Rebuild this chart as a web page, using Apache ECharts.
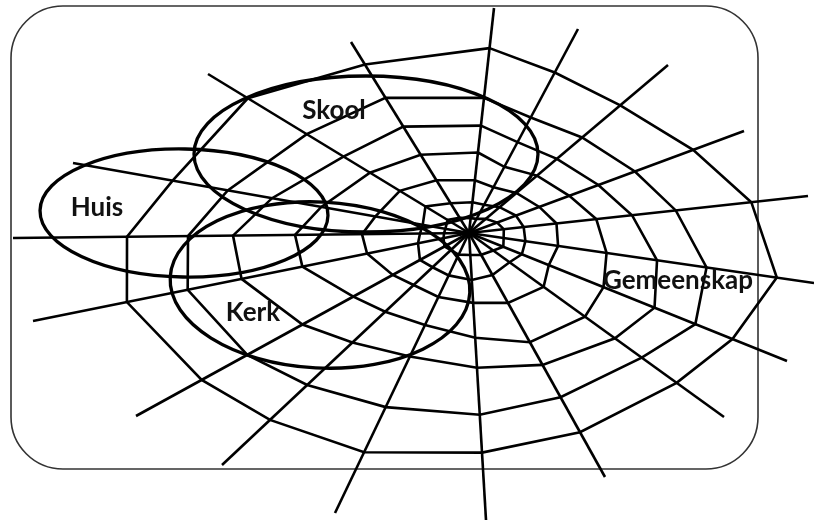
<!DOCTYPE html>
<html><head><meta charset="utf-8">
<script src="https://cdn.jsdelivr.net/npm/echarts@6/dist/echarts.min.js"></script>
<style>html,body{margin:0;padding:0;background:#fff}#c{width:814px;height:521px}</style>
</head><body><div id="c"></div>
<script>
// Diagram coordinates (one unit = one pixel of the 814x521 sheet, y downwards)
const webCenter = [469, 233];
const spokeEnds = [[494,8],[578,29],[668,65],[744,131],[808,196],[814,283],[787,361],[724,417],[605,477],[486,520],[335,513],[222,465],[136,416],[33,321],[13,238],[73,163],[208,74],[351,42]];
// distance of each web ring (1 = innermost .. 7 = outermost) along each spoke
const ringDistances = [
 [15,31,53,81,108,136,186],
 [16,32,52,75,103,131,182],
 [22,40,62,89,115,148,198],
 [30,50,75,107,138,177,239],
 [35,55,88,128,164,208,284],
 [35,57,90,139,190,240,311],
 [37,57,86,145,200,244,284],
 [30,50,92,143,180,213,256],
 [25,48,80,125,151,188,228],
 [22,47,70,105,135,182,220],
 [24,47,71,102,137,193,243],
 [25,50,76,115,160,222,273],
 [28,56,87,132,190,253,305],
 [26,52,104,170,232,287,349],
 [25,49,107,174,236,281,342],
 [24,47,95,150,200,245,301],
 [25,51,81,116,147,190,259],
 [18,35,62,92,125,159,198]
];
const circleNames = ['Skool','Huis','Kerk'];
const circleCenters = [[366,154],[184,213],[320,285]];
const circleRadii = [[172,78],[144,64],[150,83]];
const circleTilt = [0, 1, 3]; // degrees clockwise
const labelNames = ['Skool','Huis','Kerk','Gemeenskap'];
const labelPoints = [[334,111],[97,208],[253,313],[678,281]];
const frameBox = [11, 6, 758, 469];

const chart = echarts.init(document.getElementById('c'), null, {renderer:'canvas'});
const LW = 2.6;
const series = [];

// frame
series.push({
  type:'custom', coordinateSystem:'cartesian2d', silent:true, z:1,
  data:[frameBox],
  renderItem:(params, api)=>{
    const a = api.coord([api.value(0), api.value(1)]);
    const b = api.coord([api.value(2), api.value(3)]);
    return {type:'rect', shape:{x:a[0], y:a[1], width:b[0]-a[0], height:b[1]-a[1], r:52},
      style:{fill:'none', stroke:'#333', lineWidth:1.6}};
  }
});

// spokes
spokeEnds.forEach(e=>{
  series.push({type:'line', silent:true, symbol:'none', z:2, animation:false,
    data:[webCenter, e], lineStyle:{color:'#000', width:LW}});
});

// rings
for (let r = 0; r < 7; r++) {
  const pts = spokeEnds.map((e, i)=>{
    const dx = e[0]-webCenter[0], dy = e[1]-webCenter[1];
    const L = Math.hypot(dx, dy);
    const d = ringDistances[i][r];
    return [webCenter[0] + dx/L*d, webCenter[1] + dy/L*d];
  });
  pts.push(pts[0]);
  series.push({type:'line', silent:true, symbol:'none', z:2, animation:false,
    data:pts, lineStyle:{color:'#000', width:LW, join:'miter'}});
}

// ellipses
series.push({
  type:'custom', coordinateSystem:'cartesian2d', silent:true, z:5,
  data: circleCenters.map((c,i)=>[c[0], c[1], circleRadii[i][0], circleRadii[i][1], circleTilt[i]]),
  renderItem:(params, api)=>{
    const p = api.coord([api.value(0), api.value(1)]);
    const s = api.size([api.value(2), api.value(3)]);
    return {type:'ellipse', x:p[0], y:p[1], rotation:-api.value(4)*Math.PI/180,
      shape:{cx:0, cy:0, rx:s[0], ry:s[1]},
      style:{fill:'none', stroke:'#000', lineWidth:3.3}};
  }
});

// labels
series.push({
  type:'custom', coordinateSystem:'cartesian2d', silent:true, z:10,
  data: labelPoints.map((p,i)=>[p[0], p[1], i]),
  renderItem:(params, api)=>{
    const p = api.coord([api.value(0), api.value(1)]);
    return {type:'text', x:p[0], y:p[1],
      style:{text:labelNames[api.value(2)], fill:'#111', font:'bold 26px Lato', align:'center', verticalAlign:'middle'}};
  }
});

chart.setOption({
  animation:false,
  grid:{left:0, right:0, top:0, bottom:0},
  xAxis:{type:'value', min:0, max:814, show:false},
  yAxis:{type:'value', min:0, max:521, inverse:true, show:false},
  series
});
</script></body></html>
